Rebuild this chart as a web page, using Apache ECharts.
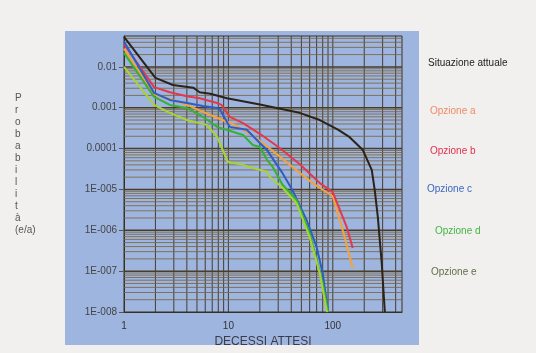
<!DOCTYPE html>
<html>
<head>
<meta charset="utf-8">
<script src="https://cdn.jsdelivr.net/npm/echarts@6/dist/echarts.min.js"></script>
<style>
html,body{margin:0;padding:0;background:#f1f0ee;}
#c{width:536px;height:353px;}
</style>
</head>
<body>
<div id="c"></div>
<script>
// ---- data ----
const seriesNames = ['Situazione attuale','Opzione a','Opzione b','Opzione c','Opzione d','Opzione e'];

const xAttuale = [1, 2, 2.94, 4.6, 5.3, 6.7, 9.7, 20, 48, 75, 112, 145, 194, 236, 252, 270, 294, 315];
const yAttuale = [0.054, 0.0054, 0.0036, 0.0031, 0.0024, 0.0022, 0.0017, 0.0012, 7.5e-4, 5e-4, 2.9e-4, 1.9e-4, 9.2e-5, 3e-5, 9.7e-6, 2.1e-6, 1.6e-7, 1e-8];

const xOpzA = [1, 1.94, 2.75, 4.0, 5.7, 8.3, 11, 16.8, 26, 43, 64, 100, 130, 155];
const yOpzA = [0.028, 0.0021, 0.00164, 0.00117, 7.9e-4, 5.3e-4, 4e-4, 2.15e-4, 9.2e-5, 3.2e-5, 1.43e-5, 6.8e-6, 6.8e-7, 1.2e-7];

const xOpzB = [1, 1.94, 2.75, 4.0, 5.3, 7.8, 8.6, 10.3, 13.8, 20, 31, 48, 75, 100, 136, 155];
const yOpzB = [0.036, 0.0032, 0.0024, 0.0019, 0.0017, 0.0013, 0.00117, 6e-4, 4.2e-4, 2.3e-4, 1.03e-4, 4.2e-5, 1.43e-5, 8.6e-6, 1.2e-6, 3.7e-7];

const xOpzC = [1, 1.94, 2.75, 4.0, 5.7, 7.8, 8.3, 10.3, 15, 20, 23.4, 33, 41, 56, 70, 80, 90];
const yOpzC = [0.042, 0.0023, 0.00155, 0.0013, 0.0011, 9.9e-4, 9e-4, 3.4e-4, 2.9e-4, 1.37e-4, 9.2e-5, 2.5e-5, 9.7e-6, 1.8e-6, 3.9e-7, 8.9e-8, 1e-8];

const xOpzD = [1, 1.94, 2.75, 4.0, 5.7, 7.8, 9.7, 13.8, 17.1, 20, 23.4, 26.7, 33, 45, 60, 80, 90];
const yOpzD = [0.022, 0.00184, 0.00117, 9.9e-4, 6e-4, 3.4e-4, 2.86e-4, 2.15e-4, 1.22e-4, 1.09e-4, 5.3e-5, 3.5e-5, 1.3e-5, 5.5e-6, 8.5e-7, 5.1e-8, 1e-8];

const xOpzE = [1, 1.94, 2.75, 4.0, 6.2, 7.8, 9.9, 13.8, 16.1, 23.4, 25, 33, 45, 60, 75, 88];
const yOpzE = [0.01, 0.00117, 7.5e-4, 5e-4, 3.8e-4, 1.92e-4, 4.7e-5, 4e-5, 3.5e-5, 2.7e-5, 2e-5, 1.1e-5, 4.6e-6, 6.8e-7, 8.9e-8, 1e-8];

const xTickLabels = {0: '1', 1: '10', 2: '100'};
const yTickLabels = {'-8': '1E-008', '-7': '1E-007', '-6': '1E-006', '-5': '1E-005', '-4': '0.0001', '-3': '0.001', '-2': '0.01'};

// ---- styling ----
const lineColors = ['#2b2318', '#f6a23a', '#e8364a', '#2c5ec8', '#33b236', '#a6d432'];
const labelColors = ['#222222', '#ef8a62', '#e0304c', '#3a66c0', '#44b444', '#5f6f4a'];
const FONT = 'Liberation Sans, Arial, sans-serif';

function pairs(xs, ys) { return xs.map((x, i) => [x, ys[i]]); }
const dataSets = [
  pairs(xAttuale, yAttuale), pairs(xOpzA, yOpzA), pairs(xOpzB, yOpzB),
  pairs(xOpzC, yOpzC), pairs(xOpzD, yOpzD), pairs(xOpzE, yOpzE)
];

const X_MIN = 1, X_MAX = 460, Y_MIN = 1e-8, Y_MAX = 0.057;

// log-paper grid lines (1..9 x 10^n) drawn as thin line series through the axes
const series = [];
for (let e = 0; e <= 2; e++) for (let m = 1; m <= 9; m++) {
  const v = m * Math.pow(10, e);
  if (v > X_MIN && v < X_MAX) series.push({
    type: 'line', data: [[v, Y_MIN], [v, Y_MAX]], showSymbol: false, symbol: 'none', silent: true, z: 1,
    lineStyle: {color: '#3b3122', width: 1, opacity: 0.9}, animation: false
  });
}
for (let e = -8; e <= -2; e++) for (let m = 1; m <= 9; m++) {
  const v = m * Math.pow(10, e);
  if (v > Y_MIN && v < Y_MAX) series.push({
    type: 'line', data: [[X_MIN, v], [X_MAX, v]], showSymbol: false, symbol: 'none', silent: true, z: 1,
    lineStyle: {color: m === 1 ? '#4a3d28' : '#7a6642', width: m === 1 ? 1.5 : 1, opacity: m === 1 ? 1 : 0.85}, animation: false
  });
}
seriesNames.forEach((n, i) => {
  series.push({
    type: 'line', name: n, data: dataSets[i], showSymbol: false, symbol: 'none', z: 3 + (i === 0 ? 0 : 1),
    lineStyle: {color: lineColors[i], width: 2}, itemStyle: {color: lineColors[i]}, animation: false
  });
});

const graphics = [
  {type: 'rect', shape: {x: 65, y: 31, width: 354, height: 314}, style: {fill: '#9eb5df'}, z: -10, silent: true},
  {type: 'text', left: 15, top: 92, z: 10, style: {
    text: 'P\nr\no\nb\na\nb\ni\nl\ni\nt\nà\n(e/a)', fill: '#555', font: '10px ' + FONT, lineHeight: 12, align: 'center'}}
];
const legendPos = [[428, 63], [430, 111], [430, 151], [427, 189], [435, 231], [431, 272]];
seriesNames.forEach((n, i) => {
  graphics.push({type: 'text', x: legendPos[i][0], y: legendPos[i][1], z: 10,
    style: {text: n, fill: labelColors[i], font: '10px ' + FONT, verticalAlign: 'middle', align: 'left'}});
});

const chart = echarts.init(document.getElementById('c'), null, {renderer: 'canvas'});
chart.setOption({
  backgroundColor: '#f1f0ee',
  animation: false,
  grid: {left: 124, right: 134, top: 36, bottom: 41, show: true, borderColor: '#3a3020', borderWidth: 1, backgroundColor: 'transparent'},
  xAxis: {
    type: 'log', logBase: 10, min: X_MIN, max: X_MAX, splitNumber: 3,
    name: 'DECESSI ATTESI', nameLocation: 'middle', nameGap: 22,
    nameTextStyle: {color: '#3a3a4a', fontSize: 12, fontFamily: FONT},
    axisLine: {show: true, lineStyle: {color: '#3a3020'}},
    axisTick: {show: false},
    splitLine: {show: false},
    axisLabel: {color: '#333', fontSize: 10, fontFamily: FONT, margin: 9, showMaxLabel: false,
      formatter: v => { const e = Math.log10(v); const r = Math.round(e); return Math.abs(e - r) < 1e-6 && xTickLabels[r] ? xTickLabels[r] : ''; }}
  },
  yAxis: {
    type: 'log', logBase: 10, min: Y_MIN, max: Y_MAX, splitNumber: 8,
    axisLine: {show: true, lineStyle: {color: '#3a3020'}},
    axisTick: {show: true, length: 5, lineStyle: {color: '#555'}},
    splitLine: {show: false},
    axisLabel: {color: '#444', fontSize: 10, fontFamily: FONT, margin: 7, showMaxLabel: false,
      formatter: v => { const e = Math.log10(v); const r = Math.round(e); return Math.abs(e - r) < 1e-6 && yTickLabels[r] ? yTickLabels[r] : ''; }}
  },
  graphic: graphics,
  series: series
});
</script>
</body>
</html>
